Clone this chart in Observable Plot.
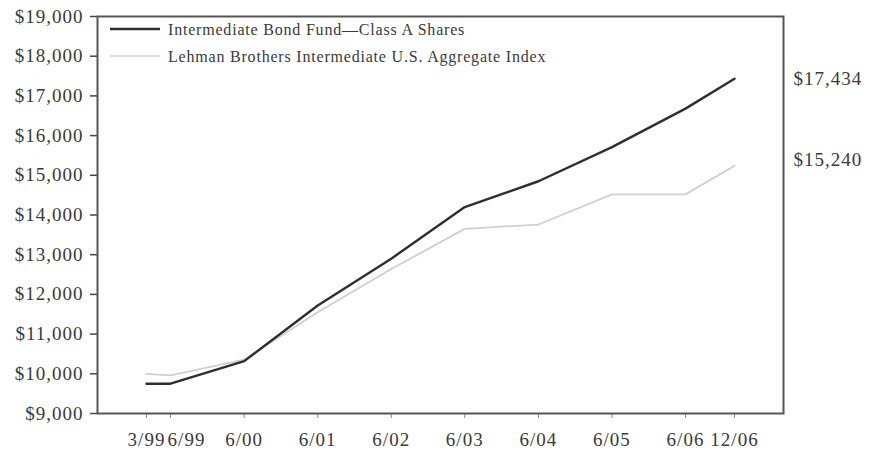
<!DOCTYPE html>
<html>
<head>
<meta charset="utf-8">
<script src="https://cdn.jsdelivr.net/npm/d3@7"></script>
<script src="https://cdn.jsdelivr.net/npm/@observablehq/plot@0.6"></script>
<style>
  html, body { margin: 0; padding: 0; background: #fff; }
  #chart svg { display: block; }
</style>
</head>
<body>
<div id="chart"></div>
<script>
// Period-end dates and their axis labels
const periodDates = ["1999-03-31", "1999-06-30", "2000-06-30", "2001-06-30", "2002-06-30",
                     "2003-06-30", "2004-06-30", "2005-06-30", "2006-06-30", "2006-12-31"];
const periodLabels = ["3/99", "6/99", "6/00", "6/01", "6/02", "6/03", "6/04", "6/05", "6/06", "12/06"];

// Growth of a $10,000 investment
const fundName = "Intermediate Bond Fund\u2014Class A Shares";
const fundValues = [9750, 9750, 10320, 11720, 12900, 14200, 14850, 15710, 16680, 17434];
const indexName = "Lehman Brothers Intermediate U.S. Aggregate Index";
const indexValues = [10000, 9960, 10360, 11550, 12640, 13650, 13760, 14520, 14520, 15240];

const yTicks = [9000, 10000, 11000, 12000, 13000, 14000, 15000, 16000, 17000, 18000, 19000];

const dates = periodDates.map(d => new Date(d + "T00:00:00Z"));
const labelByTime = new Map(dates.map((d, i) => [+d, periodLabels[i]]));
const dollars = v => "$" + d3.format(",")(v);

const fund = dates.map((d, i) => ({date: d, value: fundValues[i]}));
const index = dates.map((d, i) => ({date: d, value: indexValues[i]}));
const last = dates.length - 1;

const FUND_COLOR = "#2e2e2e";
const INDEX_COLOR = "#cfcfcf";
const INK = "#3a3a3a";
const SERIF = "'Liberation Serif', 'Times New Roman', serif";

// The date axis is piecewise: the partial first quarter and final half-year
// are drawn a little wider than the full years between them.
const xDomain = [dates[0], dates[1], dates[last - 1], dates[last]];
const xRange = [146, 170, 685, 734];

// The 6/99 label sits just right of its tick so it clears 3/99.
const crowded = +dates[1];

const chart = Plot.plot({
  width: 870,
  height: 454,
  marginLeft: 97,
  marginRight: 87,
  marginTop: 16,
  marginBottom: 41,
  style: {fontFamily: SERIF, fontSize: "19px", letterSpacing: "1px", color: INK, background: "#fff"},
  x: {type: "utc", domain: xDomain, range: xRange},
  y: {domain: [9000, 19000]},
  marks: [
    Plot.axisY({ticks: yTicks, tickFormat: dollars, tickSize: 7, tickPadding: 7, label: null, stroke: "#444", strokeWidth: 1.5}),
    Plot.axisX({ticks: dates, tickFormat: d => (+d === crowded ? "" : labelByTime.get(+d)), tickSize: 5, tickPadding: 14, label: null, stroke: "#888"}),
    Plot.axisX({ticks: [dates[1]], tickFormat: d => labelByTime.get(+d), tickSize: 0, tickPadding: 19, dx: 16, label: null, stroke: "none"}),
    Plot.line(index, {x: "date", y: "value", stroke: INDEX_COLOR, strokeWidth: 1.8}),
    Plot.line(fund, {x: "date", y: "value", stroke: FUND_COLOR, strokeWidth: 2.4}),
    Plot.frame({stroke: "#555", strokeWidth: 2}),
    Plot.text([fund[last]], {x: "date", y: "value", text: d => dollars(d.value), dx: 59, dy: 0, textAnchor: "start", fill: INK, fontSize: 19}),
    Plot.text([index[last]], {x: "date", y: "value", text: d => dollars(d.value), dx: 59, dy: -6, textAnchor: "start", fill: INK, fontSize: 19}),
  ]
});

document.getElementById("chart").appendChild(chart);

// Legend in the upper-left corner of the plot area
const svg = d3.select(chart);
const legendItems = [
  {name: fundName, color: FUND_COLOR, width: 2.4},
  {name: indexName, color: INDEX_COLOR, width: 1.6}
];
const legend = svg.append("g")
  .attr("font-family", SERIF)
  .attr("font-size", 16)
  .attr("text-anchor", "start")
  .style("letter-spacing", "0.8px")
  .attr("fill", INK);
legendItems.forEach((item, i) => {
  const y = 29 + i * 27;
  legend.append("line")
    .attr("x1", 110).attr("x2", 160).attr("y1", y).attr("y2", y)
    .attr("stroke", item.color).attr("stroke-width", item.width);
  legend.append("text")
    .attr("x", 168).attr("y", y).attr("dy", "0.35em")
    .text(item.name);
});
</script>
</body>
</html>
